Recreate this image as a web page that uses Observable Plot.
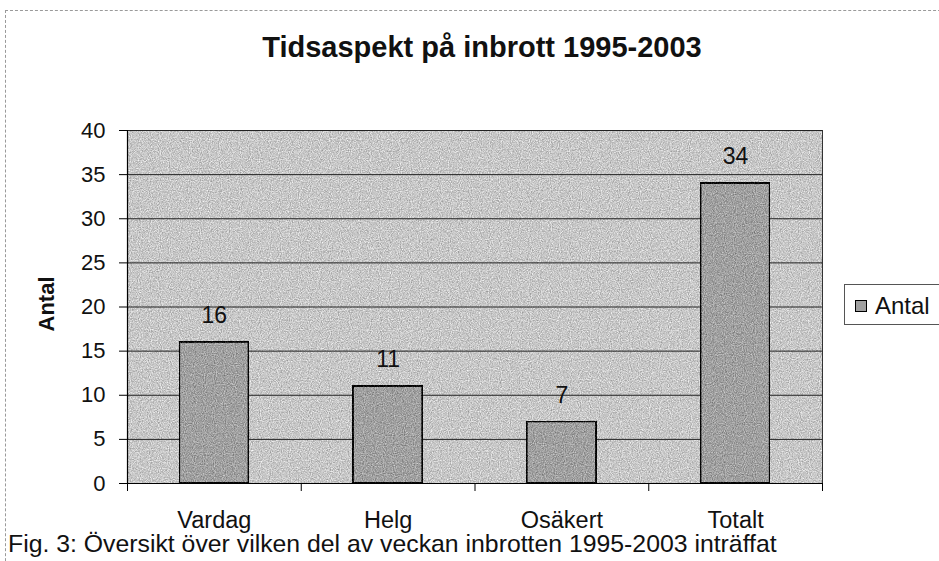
<!DOCTYPE html>
<html>
<head>
<meta charset="utf-8">
<script src="https://cdn.jsdelivr.net/npm/d3@7"></script>
<script src="https://cdn.jsdelivr.net/npm/@observablehq/plot@0.6"></script>
<style>
  html, body { margin: 0; padding: 0; background: #fff; }
  #wrap { position: relative; width: 939px; height: 561px; overflow: hidden;
          font-family: "Liberation Sans", Arial, sans-serif; color: #111; }
  #wrap svg { position: absolute; left: 0; top: 0; }
  .abs { position: absolute; white-space: nowrap; }
</style>
</head>
<body>
<div id="wrap"></div>
<script>
const title = "Tidsaspekt på inbrott 1995-2003";
const yLabel = "Antal";
const seriesName = "Antal";
const caption = "Fig. 3: Översikt över vilken del av veckan inbrotten 1995-2003 inträffat";
const categories = ["Vardag", "Helg", "Osäkert", "Totalt"];
const values = [16, 11, 7, 34];
const yTicks = [0, 5, 10, 15, 20, 25, 30, 35, 40];

const data = categories.map((c, i) => ({c, i, v: values[i]}));
const bounds = d3.range(categories.length + 1);

const chart = Plot.plot({
  width: 939,
  height: 561,
  marginLeft: 127,
  marginRight: 117,
  marginTop: 130,
  marginBottom: 78,
  x: {domain: [0, categories.length], axis: null},
  y: {domain: [0, 40], axis: null},
  style: {background: "transparent", fontFamily: "'Liberation Sans', Arial, sans-serif", color: "#111"},
  marks: [
    Plot.frame({fill: "#c7c7c7", stroke: null, className: "bg"}),
    Plot.ruleY(yTicks, {stroke: "#222", strokeWidth: 1}),
    Plot.ruleX([categories.length], {stroke: "#333", strokeWidth: 1}),
    Plot.rectY(data, {x1: d => d.i + 0.3, x2: d => d.i + 0.7, y: "v", fill: "#a0a0a0", stroke: "#000", strokeWidth: 2, className: "bars"}),
    Plot.text(data, {x: d => d.i + 0.5, y: "v", text: d => String(d.v), dy: -19, lineAnchor: "bottom", fontSize: 23, fill: "#111"}),
    Plot.ruleX([0], {stroke: "#000", strokeWidth: 1.2}),
    Plot.ruleY([0], {stroke: "#000", strokeWidth: 1.2}),
    Plot.axisY({ticks: yTicks, tickSize: 8, tickPadding: 14, fontSize: 22, label: null, stroke: "#000"}),
    Plot.axisX({ticks: bounds, tickSize: 8, tickFormat: () => "", label: null, stroke: "#000"}),
    Plot.text(data, {x: d => d.i + 0.5, y: 0, text: "c", dy: 44, lineAnchor: "bottom", fontSize: 23.5, fill: "#111"})
  ]
});

// grain texture like the scanned original
const ns = "http://www.w3.org/2000/svg";
const defs = document.createElementNS(ns, "defs");
defs.innerHTML = `
  <filter id="grain" x="0" y="0" width="100%" height="100%" color-interpolation-filters="sRGB">
    <feTurbulence type="fractalNoise" baseFrequency="0.9" numOctaves="2" seed="3" result="n"/>
    <feColorMatrix in="n" type="matrix" values="1 0 0 0 0  1 0 0 0 0  1 0 0 0 0  0 0 0 0 1" result="g"/>
    <feComposite in="g" in2="SourceGraphic" operator="arithmetic" k1="0" k2="0.5" k3="1" k4="-0.25"/>
  </filter>`;
chart.insertBefore(defs, chart.firstChild);
chart.querySelectorAll(".bg rect, rect.bg, .bars rect").forEach(r => r.setAttribute("filter", "url(#grain)"));

const wrap = document.getElementById("wrap");
wrap.appendChild(chart);

function addDiv(html, css) {
  const d = document.createElement("div");
  d.className = "abs";
  d.innerHTML = html;
  Object.assign(d.style, css);
  wrap.appendChild(d);
  return d;
}

// outer chart-area border (dashed, scanned look)
addDiv("", {left: "5px", top: "10px", width: "960px", height: "600px",
  borderLeft: "1px dashed #9a9a9a", borderTop: "1px dashed #9a9a9a"});

// title
addDiv(title, {left: "0px", width: "964px", top: "30px", textAlign: "center",
  fontWeight: "bold", fontSize: "29px", lineHeight: "34px"});

// y label
addDiv(yLabel, {left: "47px", top: "304px", fontWeight: "bold", fontSize: "22px",
  lineHeight: "22px", transform: "translate(-50%,-50%) rotate(-90deg)"});

// legend
addDiv(`<span style="display:inline-block;width:10px;height:10px;border:1px solid #000;background:#a0a0a0;margin-right:8px;vertical-align:middle;position:relative;top:-2px"></span>${seriesName}`,
  {left: "844px", top: "284px", width: "120px", height: "41px", border: "1px solid #555",
   fontSize: "24px", lineHeight: "41px", paddingLeft: "10px", boxSizing: "border-box", background: "#fff"});

// caption
addDiv(caption, {left: "8px", top: "530px", fontSize: "24.8px", lineHeight: "28px"});
</script>
</body>
</html>
